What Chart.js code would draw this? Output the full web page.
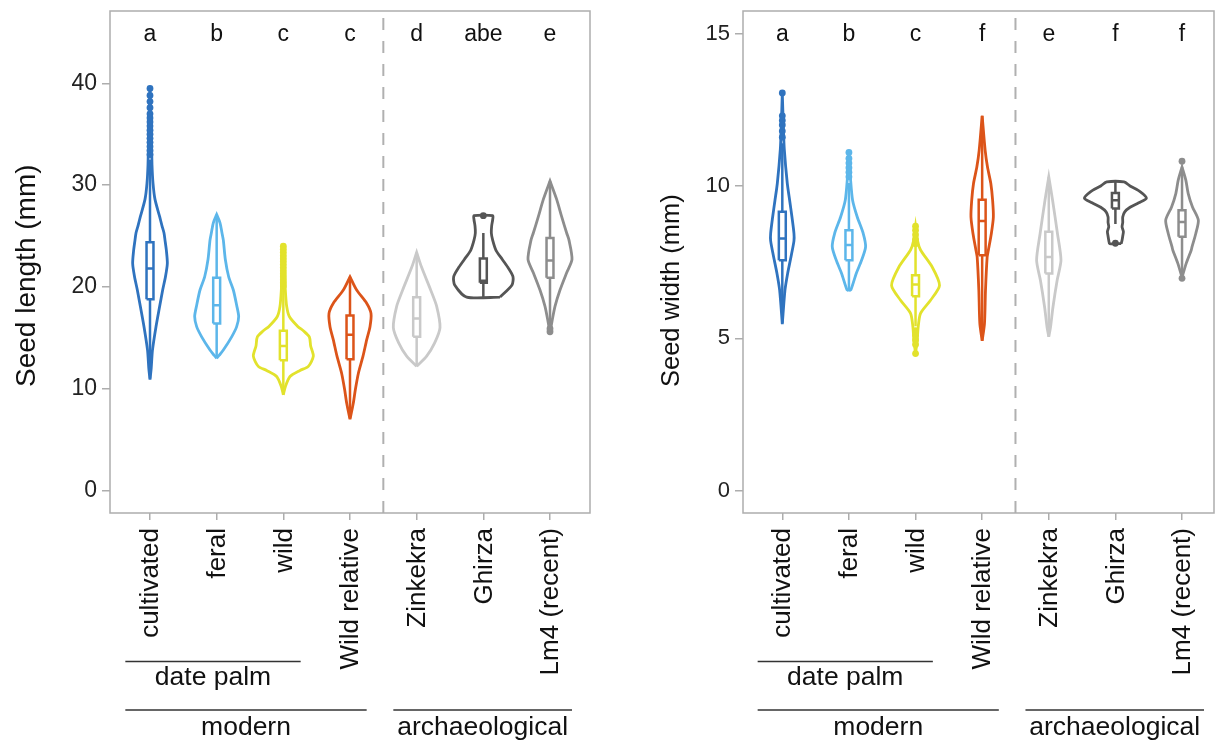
<!DOCTYPE html>
<html>
<head>
<meta charset="utf-8">
<script src="https://cdn.jsdelivr.net/npm/chart.js@4.4.1/dist/chart.umd.min.js"></script>
<style>
  body { margin: 0; background: #fff; }
  #wrap { position: relative; width: 1218px; height: 742px; }
  canvas { position: absolute; top: 0; }
</style>
</head>
<body>
<div id="wrap">
  <canvas id="lenChart" width="600" height="742" style="left:0"></canvas>
  <canvas id="widChart" width="618" height="742" style="left:600px"></canvas>
</div>
<script>
// categories + styling shared by both panels
const categories = ['cultivated', 'feral', 'wild', 'Wild relative', 'Zinkekra', 'Ghirza', 'Lm4 (recent)'];
const colors = ['#2f73bf', '#5cb6ea', '#e2e22c', '#dc5419', '#c9c9c9', '#555555', '#8d8d8d'];
const lenLetters = ['a', 'b', 'c', 'c', 'd', 'abe', 'e'];
const widLetters = ['a', 'b', 'c', 'f', 'e', 'f', 'f'];
const lenTicks = [0, 10, 20, 30, 40];
const widTicks = [0, 5, 10, 15];
const groupNames = ['date palm', 'modern', 'archaeological'];
const groupFrom = [-0.37, -0.37, 3.65];
const groupTo = [2.26, 3.25, 6.33];
const groupRow = [0, 1, 1];
const divideAt = 3.5;

// violin outlines: [value, half width in category units]
const lenCultivated = [[10.9,0],[12.0,0.018],[13.8,0.037],[16.1,0.09],[18.1,0.145],[19.7,0.19],[21.0,0.232],[22.3,0.26],[23.5,0.247],[24.6,0.225],[25.3,0.21],[26.0,0.18],[26.9,0.145],[28.6,0.075],[30.2,0.045],[32.0,0.03],[35.0,0.02],[39.5,0]];
const lenFeral = [[13.0,0],[13.3,0.04],[13.8,0.1],[15.1,0.225],[16.1,0.3],[17.1,0.33],[18.2,0.3],[19.7,0.25],[21.0,0.18],[22.7,0.13],[24.6,0.1],[25.3,0.08],[26.3,0.05],[27.1,0]];
const lenWild = [[9.4,0],[10.2,0.03],[11.2,0.1],[11.8,0.25],[12.2,0.375],[13.2,0.45],[14.2,0.41],[15.1,0.39],[15.7,0.3],[16.1,0.22],[17.1,0.09],[18.1,0.05],[19.7,0.03],[22.0,0.015],[24.0,0]];
const lenWildRel = [[7.0,0],[8.6,0.05],[9.9,0.08],[11.5,0.125],[13.2,0.195],[14.8,0.25],[16.1,0.3],[17.4,0.315],[18.4,0.25],[19.7,0.1],[21.0,0]];
const lenZinkekra = [[12.2,0],[13.2,0.15],[14.5,0.27],[16.0,0.35],[18.1,0.3],[19.7,0.21],[22.0,0.07],[23.4,0]];
const lenGhirza = [[19.0,0.25],[20.2,0.43],[21.0,0.445],[21.8,0.38],[22.7,0.285],[23.6,0.19],[24.6,0.14],[25.3,0.12],[26.0,0.125],[26.6,0.14],[27.0,0.14]];
const lenLm4 = [[15.5,0],[16.8,0.035],[18.1,0.075],[19.7,0.15],[21.4,0.25],[22.7,0.33],[24.6,0.285],[25.3,0.25],[26.9,0.175],[28.6,0.1],[30.4,0]];

const widCultivated = [[5.47,0],[6.58,0.04],[7.13,0.08],[7.67,0.13],[8.2,0.175],[8.44,0.175],[8.98,0.145],[9.53,0.11],[10.08,0.075],[11.2,0.03],[12.0,0.015],[13.05,0]];
const widFeral = [[6.56,0],[6.6,0.03],[7.13,0.11],[7.56,0.19],[8.0,0.25],[8.44,0.215],[8.98,0.125],[9.53,0.055],[10.2,0.025],[11.1,0]];
const widWild = [[4.5,0],[4.94,0.025],[5.38,0.04],[5.82,0.075],[6.25,0.225],[6.74,0.36],[7.34,0.25],[7.9,0.075],[8.2,0.03],[8.68,0]];
const widWildRel = [[4.92,0],[5.49,0.035],[6.58,0.05],[7.67,0.075],[7.89,0.093],[8.44,0.138],[8.98,0.168],[9.53,0.157],[10.08,0.13],[10.62,0.08],[11.17,0.045],[12.3,0]];
const widZinkekra = [[5.05,0],[5.38,0.027],[6.03,0.063],[6.9,0.125],[7.56,0.183],[8.44,0.13],[9.53,0.057],[10.3,0]];
const widGhirza = [[8.11,0.087],[8.22,0.1],[8.35,0.11],[8.5,0.12],[8.66,0.1],[8.8,0.11],[8.98,0.11],[9.15,0.14],[9.3,0.22],[9.45,0.35],[9.6,0.465],[9.8,0.38],[10.0,0.22],[10.13,0.13]];
const widLm4 = [[7.0,0],[7.46,0.063],[7.89,0.138],[8.0,0.15],[8.44,0.207],[8.88,0.245],[9.31,0.157],[9.75,0.093],[10.19,0.057],[10.62,0]];

// box plot stats
const lenQ1 = [18.8, 16.4, 12.8, 12.9, 15.1, 20.4, 20.9];
const lenMed = [21.8, 18.2, 14.2, 15.3, 16.9, 20.6, 22.6];
const lenQ3 = [24.4, 20.9, 15.7, 17.2, 19.0, 22.8, 24.8];
const lenLo = [11.0, 13.0, 9.5, 7.1, 12.2, 19.0, 16.2];
const lenHi = [32.5, 27.0, 19.9, 21.0, 23.4, 25.3, 30.4];
const lenOutliers = [
  [33, 33.4, 33.8, 34.2, 34.6, 35, 35.4, 35.8, 36.2, 36.6, 37, 37.6, 38.2, 38.8, 39.5],
  [],
  [20.1, 20.4, 20.7, 21, 21.3, 21.6, 21.9, 22.2, 22.5, 22.8, 23.1, 23.4, 23.7, 24.0],
  [], [], [27.0], [15.6, 15.9]
];

const widQ1 = [7.56, 7.56, 6.38, 7.73, 7.13, 9.26, 8.33];
const widMed = [8.28, 8.06, 6.77, 8.85, 7.67, 9.53, 8.82];
const widQ3 = [9.15, 8.55, 7.07, 9.55, 8.5, 9.77, 9.2];
const widLo = [5.5, 6.56, 5.4, 4.92, 5.05, 8.75, 7.1];
const widHi = [11.4, 10.1, 8.0, 12.3, 10.3, 10.13, 10.62];
const widOutliers = [
  [11.6, 11.8, 12.0, 12.15, 12.3, 13.05],
  [10.3, 10.45, 10.6, 10.75, 10.9, 11.1],
  [8.1, 8.25, 8.4, 8.55, 8.68, 5.25, 5.1, 4.95, 4.8, 4.5],
  [], [], [8.12], [6.97, 10.81]
];

(function() {
    const FONT = '"Liberation Sans", Arial, Helvetica, sans-serif';
    const AXIS_GREY = '#adadad';
    const BOX_HALF = 0.052;
    Chart.defaults.font.family = FONT;

    function violinPoints(profile, c) {
        const right = profile.map(p => ({ x: c + p[1], y: p[0] }));
        const left = profile.slice().reverse().map(p => ({ x: c - p[1], y: p[0] }));
        return right.concat(left, [right[0]]);
    }

    // whiskers, box and median as one broken line
    function boxPoints(c, q1, med, q3, lo, hi) {
        const gap = { x: c, y: null };
        return [
            { x: c, y: lo }, { x: c, y: q1 }, gap,
            { x: c - BOX_HALF, y: q1 }, { x: c + BOX_HALF, y: q1 }, { x: c + BOX_HALF, y: q3 },
            { x: c - BOX_HALF, y: q3 }, { x: c - BOX_HALF, y: q1 }, gap,
            { x: c - BOX_HALF, y: med }, { x: c + BOX_HALF, y: med }, gap,
            { x: c, y: q3 }, { x: c, y: hi }
        ];
    }

    const annotations = {
        id: 'annotations',
        afterDraw(chart, args, opts) {
            const ctx = chart.ctx;
            const a = chart.chartArea;
            const xs = chart.scales.x;
            ctx.save();
            // frame
            ctx.strokeStyle = AXIS_GREY;
            ctx.lineWidth = 1.5;
            ctx.strokeRect(a.left, a.top, a.right - a.left, a.bottom - a.top);

            ctx.fillStyle = '#111';
            // letters above the violins
            ctx.font = '23px ' + FONT;
            ctx.textAlign = 'center';
            ctx.textBaseline = 'alphabetic';
            opts.letters.forEach((t, i) => ctx.fillText(t, xs.getPixelForValue(i), a.top + 30));

            // rotated category labels
            ctx.font = '26px ' + FONT;
            categories.forEach((t, i) => {
                ctx.save();
                ctx.translate(xs.getPixelForValue(i) + 1, a.bottom + 15);
                ctx.rotate(-Math.PI / 2);
                ctx.textAlign = 'right';
                ctx.textBaseline = 'middle';
                ctx.fillText(t, 0, 0);
                ctx.restore();
            });

            // group brackets
            const lineY = [661.5, 710];
            const textY = [678, 728];
            ctx.strokeStyle = '#333';
            ctx.lineWidth = 1.5;
            ctx.font = '26.5px ' + FONT;
            ctx.textAlign = 'center';
            ctx.textBaseline = 'middle';
            groupNames.forEach((g, i) => {
                const x0 = xs.getPixelForValue(groupFrom[i]);
                const x1 = xs.getPixelForValue(groupTo[i]);
                ctx.beginPath();
                ctx.moveTo(x0, lineY[groupRow[i]]);
                ctx.lineTo(x1, lineY[groupRow[i]]);
                ctx.stroke();
                ctx.fillText(g, (x0 + x1) / 2, textY[groupRow[i]]);
            });

            // y axis title
            ctx.save();
            ctx.translate(opts.titleX, 387);
            ctx.rotate(-Math.PI / 2);
            ctx.font = opts.titleSize + 'px ' + FONT;
            ctx.textAlign = 'left';
            ctx.textBaseline = 'middle';
            ctx.fillText(opts.title, 0, 0);
            ctx.restore();
            ctx.restore();
        }
    };

    function makePanel(id, p) {
        const datasets = [];
        p.profiles.forEach((prof, i) => {
            datasets.push({
                data: violinPoints(prof, i),
                showLine: true, borderColor: colors[i], borderWidth: 2.8,
                pointRadius: 0, tension: 0.25, fill: false
            });
            datasets.push({
                data: boxPoints(i, p.q1[i], p.med[i], p.q3[i], p.lo[i], p.hi[i]),
                showLine: true, spanGaps: false, borderColor: colors[i], borderWidth: 2.5,
                pointRadius: 0, tension: 0, fill: false
            });
            datasets.push({
                data: p.outliers[i].map(v => ({ x: i, y: v })),
                showLine: false, pointRadius: 3.4, pointBorderWidth: 0,
                backgroundColor: colors[i], borderColor: colors[i]
            });
        });
        datasets.push({
            data: [{ x: divideAt, y: p.yMin }, { x: divideAt, y: p.yMax }],
            showLine: true, borderColor: '#b0b0b0', borderWidth: 2, borderDash: [12, 11],
            pointRadius: 0
        });

        return new Chart(document.getElementById(id), {
            type: 'scatter',
            data: { datasets },
            options: {
                responsive: false,
                animation: false,
                devicePixelRatio: 1,
                layout: { padding: { left: 0, top: 11, right: p.padRight, bottom: 0 } },
                plugins: {
                    legend: { display: false },
                    tooltip: { enabled: false },
                    annotations: { letters: p.letters, title: p.title, titleX: p.titleX, titleSize: p.titleSize }
                },
                scales: {
                    x: {
                        type: 'linear', min: p.xMin, max: p.xMax,
                        afterBuildTicks: s => { s.ticks = categories.map((c, i) => ({ value: i })); },
                        afterFit: s => { s.height = 229; s.paddingLeft = 0; s.paddingRight = 0; },
                        ticks: { display: false },
                        border: { display: false },
                        grid: { drawOnChartArea: false, drawTicks: true, tickLength: 7, color: AXIS_GREY, lineWidth: 1.5 }
                    },
                    y: {
                        min: p.yMin, max: p.yMax,
                        afterBuildTicks: s => { s.ticks = p.ticks.map(v => ({ value: v })); },
                        afterFit: s => { s.width = p.axisWidth; s.paddingTop = 0; s.paddingBottom = 0; },
                        ticks: { color: '#222', padding: 5, font: { size: p.tickSize } },
                        border: { display: false },
                        grid: { drawOnChartArea: false, drawTicks: true, tickLength: 8, color: AXIS_GREY, lineWidth: 1.5 }
                    }
                }
            },
            plugins: [annotations]
        });
    }

    makePanel('lenChart', {
        profiles: [lenCultivated, lenFeral, lenWild, lenWildRel, lenZinkekra, lenGhirza, lenLm4],
        q1: lenQ1, med: lenMed, q3: lenQ3, lo: lenLo, hi: lenHi, outliers: lenOutliers,
        ticks: lenTicks, letters: lenLetters,
        yMin: -2.2, yMax: 47.1, xMin: -0.6, xMax: 6.6,
        axisWidth: 110, padRight: 10, tickSize: 23,
        title: 'Seed length (mm)', titleX: 27, titleSize: 28
    });

    makePanel('widChart', {
        profiles: [widCultivated, widFeral, widWild, widWildRel, widZinkekra, widGhirza, widLm4],
        q1: widQ1, med: widMed, q3: widQ3, lo: widLo, hi: widHi, outliers: widOutliers,
        ticks: widTicks, letters: widLetters,
        yMin: -0.73, yMax: 15.74, xMin: -0.59, xMax: 6.48,
        axisWidth: 143, padRight: 4, tickSize: 22,
        title: 'Seed width (mm)', titleX: 72, titleSize: 25.5
    });
})();
</script>
</body>
</html>
